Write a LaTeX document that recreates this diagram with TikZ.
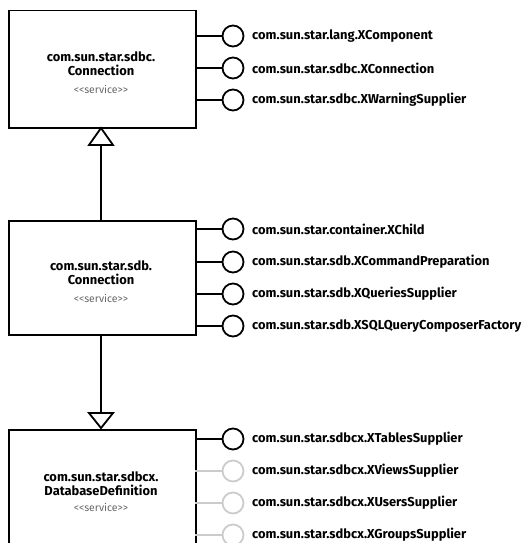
\documentclass[tikz,border=0pt]{standalone}
\usepackage{fontspec}
\setmainfont{Fira Sans}
\begin{document}
\begin{tikzpicture}[x=1pt,y=-1pt,
  svc/.style={draw=black,line width=1.5pt,minimum width=187pt,anchor=north west,inner sep=0pt},
  title/.style={font=\fontsize{12.9}{14}\selectfont\bfseries,align=center},
  stereo/.style={font=\fontsize{10.5}{12}\selectfont,text=black!60},
  lol/.style={draw=black,line width=1.8pt,circle,minimum size=21pt,inner sep=0pt,fill=white},
  lolg/.style={draw=black!20,line width=1.8pt,circle,minimum size=21pt,inner sep=0pt,fill=white},
  stick/.style={line width=1.8pt,draw=black},
  stickg/.style={line width=1.8pt,draw=black!20},
  iface/.style={font=\fontsize{12.9}{14}\selectfont\bfseries,anchor=west,inner sep=0pt},
  gen/.style={line width=1.8pt},
  tri/.style={draw=black,line width=1.8pt,fill=white}
]
\useasboundingbox (0,0) rectangle (524,543);
\clip (0,0) rectangle (524,543);
% Box 1
\node[svc,minimum height=117pt] (b1) at (8,10) {};
\node[title] (t1) at (101,64) {com.sun.star.sdbc.\\Connection};
\node[stereo] (s1) at (101,89) {{<}{<}service{>}{>}};
% Box 2
\node[svc,minimum height=114pt] (b2) at (8,220) {};
\node[title] (t2) at (101,273) {com.sun.star.sdb.\\Connection};
\node[stereo] (s2) at (101,298) {{<}{<}service{>}{>}};
% Box 3
\node[svc,minimum height=140pt] (b3) at (8,429) {};
\node[title] (t3) at (101,484) {com.sun.star.sdbcx.\\DatabaseDefinition};
\node[stereo] (s3) at (101,507) {{<}{<}service{>}{>}};

% interfaces box1
\foreach \n/\y/\t in {a/36/com.sun.star.lang.XComponent,b/68/com.sun.star.sdbc.XConnection,c/100/com.sun.star.sdbc.XWarningSupplier}{
  \coordinate (p1\n) at (195,\y);
  \node[lol] (c1\n) at (233,\y) {};
  \draw[stick] (p1\n) -- (c1\n);
  \node[iface] (l1\n) at (252,\y) {\t};
}
% interfaces box2
\foreach \n/\y/\t in {a/229/com.sun.star.container.XChild,b/262/com.sun.star.sdb.XCommandPreparation,c/294/com.sun.star.sdb.XQueriesSupplier,d/326/com.sun.star.sdb.XSQLQueryComposerFactory}{
  \coordinate (p2\n) at (195,\y);
  \node[lol] (c2\n) at (233,\y) {};
  \draw[stick] (p2\n) -- (c2\n);
  \node[iface] (l2\n) at (252,\y) {\t};
}
% interfaces box3
\coordinate (p3a) at (195,439);
\node[lol] (c3a) at (233,439) {};
\draw[stick] (p3a) -- (c3a);
\node[iface] (l3a) at (252,439) {com.sun.star.sdbcx.XTablesSupplier};
\foreach \n/\y/\t in {b/471/com.sun.star.sdbcx.XViewsSupplier,c/503/com.sun.star.sdbcx.XUsersSupplier,d/535/com.sun.star.sdbcx.XGroupsSupplier}{
  \coordinate (p3\n) at (195,\y);
  \node[lolg] (c3\n) at (233,\y) {};
  \draw[stickg] (p3\n) -- (c3\n);
  \node[iface] (l3\n) at (252,\y) {\t};
}
% generalization b2 -> b1
\coordinate (g1tip) at (101,128);
\coordinate (g1base) at (101,145);
\draw[gen] (b2.north -| g1base) -- (g1base);
\draw[tri] (g1tip) -- (89,145) -- (113,145) -- cycle;
% b2 -> b3
\coordinate (g2tip) at (101,428);
\coordinate (g2base) at (101,413);
\draw[gen] (b2.south -| g2base) -- (g2base);
\draw[tri] (g2tip) -- (89,413) -- (113,413) -- cycle;
\end{tikzpicture}
\end{document}
